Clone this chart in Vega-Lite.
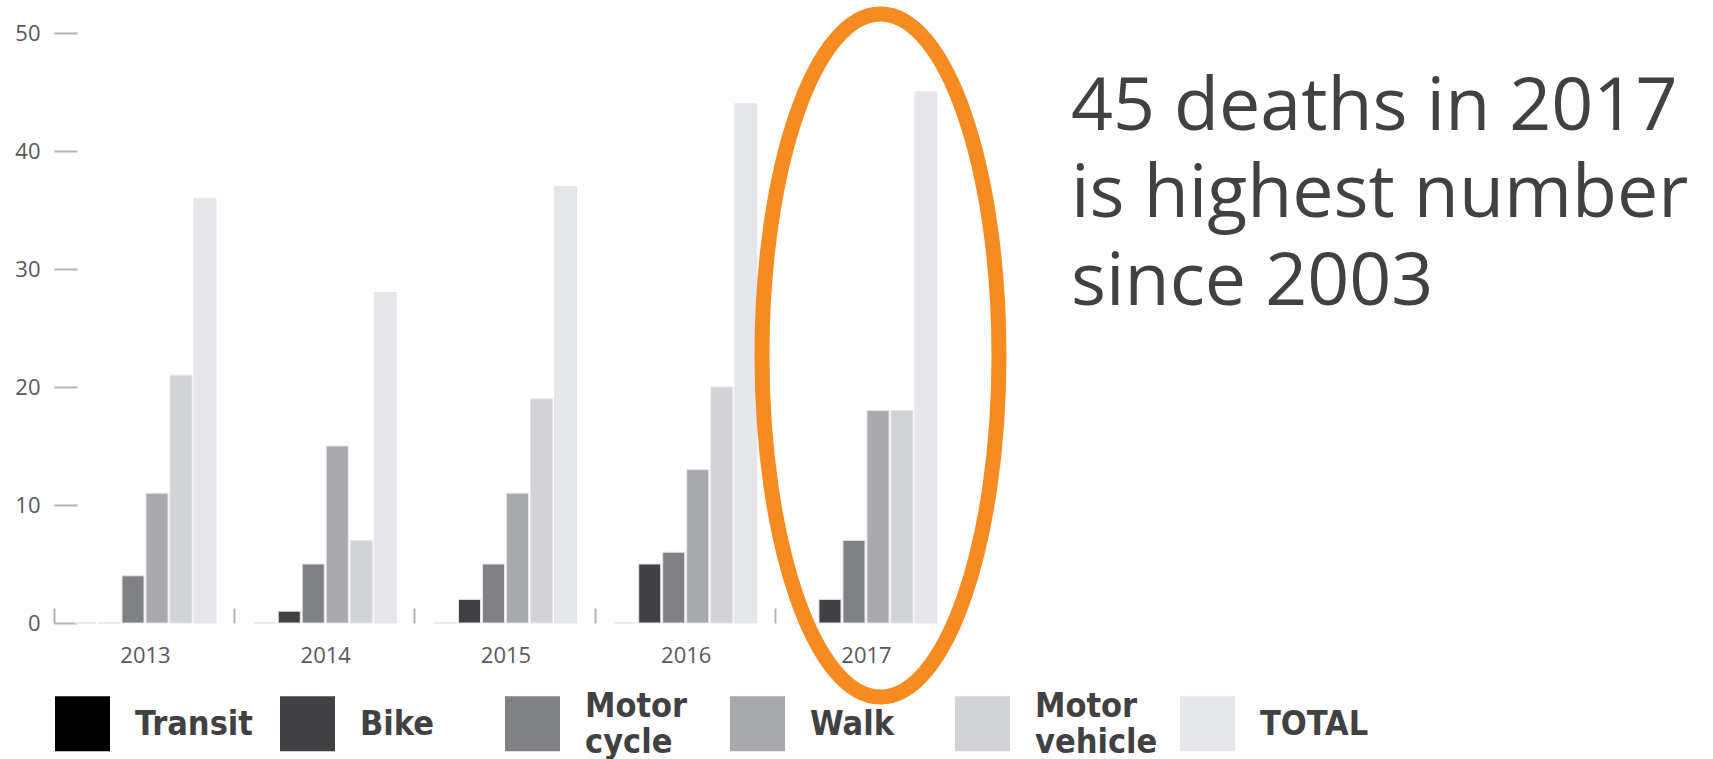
{
  "$schema": "https://vega.github.io/schema/vega-lite/v6.json",
  "width": 903,
  "height": 590,
  "autosize": {"type": "none"},
  "padding": {"left": 54, "top": 33, "right": 756, "bottom": 136},
  "background": "white",
  "config": {
    "view": {"stroke": null},
    "font": "Open Sans",
    "style": {"guide-label": {"lineHeight": 18}}
  },
  "layer": [
    {
      "data": {
        "values": [
          {"year": "2013", "mode": "Transit", "deaths": 0},
          {"year": "2013", "mode": "Bike", "deaths": 0},
          {"year": "2013", "mode": "Motor cycle", "deaths": 4},
          {"year": "2013", "mode": "Walk", "deaths": 11},
          {"year": "2013", "mode": "Motor vehicle", "deaths": 21},
          {"year": "2013", "mode": "TOTAL", "deaths": 36},
          {"year": "2014", "mode": "Transit", "deaths": 0},
          {"year": "2014", "mode": "Bike", "deaths": 1},
          {"year": "2014", "mode": "Motor cycle", "deaths": 5},
          {"year": "2014", "mode": "Walk", "deaths": 15},
          {"year": "2014", "mode": "Motor vehicle", "deaths": 7},
          {"year": "2014", "mode": "TOTAL", "deaths": 28},
          {"year": "2015", "mode": "Transit", "deaths": 0},
          {"year": "2015", "mode": "Bike", "deaths": 2},
          {"year": "2015", "mode": "Motor cycle", "deaths": 5},
          {"year": "2015", "mode": "Walk", "deaths": 11},
          {"year": "2015", "mode": "Motor vehicle", "deaths": 19},
          {"year": "2015", "mode": "TOTAL", "deaths": 37},
          {"year": "2016", "mode": "Transit", "deaths": 0},
          {"year": "2016", "mode": "Bike", "deaths": 5},
          {"year": "2016", "mode": "Motor cycle", "deaths": 6},
          {"year": "2016", "mode": "Walk", "deaths": 13},
          {"year": "2016", "mode": "Motor vehicle", "deaths": 20},
          {"year": "2016", "mode": "TOTAL", "deaths": 44},
          {"year": "2017", "mode": "Transit", "deaths": 0},
          {"year": "2017", "mode": "Bike", "deaths": 2},
          {"year": "2017", "mode": "Motor cycle", "deaths": 7},
          {"year": "2017", "mode": "Walk", "deaths": 18},
          {"year": "2017", "mode": "Motor vehicle", "deaths": 18},
          {"year": "2017", "mode": "TOTAL", "deaths": 45}
        ]
      },
      "mark": {"type": "bar", "stroke": "#e4e5e8", "strokeWidth": 1},
      "encoding": {
        "x": {
          "field": "year",
          "type": "nominal",
          "scale": {"paddingInner": 0.212, "paddingOuter": 0.111},
          "axis": {
            "title": null,
            "domain": false,
            "labelAngle": 0,
            "bandPosition": 0,
            "tickOffset": -20,
            "labelOffset": 20,
            "tickSize": -15,
            "tickWidth": 2,
            "tickColor": "#b3b3b3",
            "labelPadding": 37,
            "labelFontSize": 22,
            "labelColor": "#58595b",
            "labelFont": "Open Sans"
          }
        },
        "xOffset": {
          "field": "mode",
          "type": "nominal",
          "sort": ["Transit", "Bike", "Motor cycle", "Walk", "Motor vehicle", "TOTAL"],
          "scale": {"paddingInner": 0.083, "paddingOuter": 0}
        },
        "y": {
          "field": "deaths",
          "type": "quantitative",
          "scale": {"domain": [0, 50], "nice": false},
          "axis": {
            "title": null,
            "domain": false,
            "grid": false,
            "values": [0, 10, 20, 30, 40, 50],
            "tickSize": -23,
            "tickWidth": 2,
            "tickColor": "#b3b3b3",
            "labelPadding": 37,
            "labelFontSize": 22,
            "labelColor": "#58595b",
            "labelFont": "Open Sans"
          }
        },
        "color": {
          "field": "mode",
          "type": "nominal",
          "scale": {
            "domain": ["Transit", "Bike", "Motor cycle", "Walk", "Motor vehicle", "TOTAL"],
            "range": ["#000000", "#414143", "#808184", "#a7a9ac", "#d1d3d4", "#e6e7eb"]
          },
          "legend": {
            "title": null,
            "orient": "none",
            "legendX": 1,
            "legendY": 663,
            "direction": "horizontal",
            "columns": 6,
            "gridAlign": "all",
            "symbolType": "square",
            "symbolSize": 3025,
            "symbolStrokeWidth": 0,
            "symbolOpacity": 1,
            "labelFont": "DejaVu Sans Condensed",
            "labelFontWeight": "bold",
            "labelFontSize": 34,
            "labelColor": "#414143",
            "labelOffset": 25,
            "labelLimit": 300,
            "labelBaseline": "bottom",
            "columnPadding": 22,
            "labelExpr": "indexof(datum.label, ' ') >= 0 ? [split(datum.label, ' ')[0], '\u200b', split(datum.label, ' ')[1]] : ['\u200b', datum.label, '\u200b']"
          }
        }
      }
    },
    {
      "data": {
        "values": [
          {"year": "2017", "total": 45, "note": "45 deaths in 2017\nis highest number\nsince 2003"}
        ]
      },
      "mark": {
        "type": "text",
        "align": "left",
        "baseline": "alphabetic",
        "dx": 205,
        "dy": 38,
        "fontSize": 73.5,
        "font": "Open Sans",
        "fontWeight": 400,
        "color": "#414042",
        "lineBreak": "\n",
        "lineHeight": 87.4
      },
      "encoding": {
        "x": {"field": "year", "type": "nominal"},
        "y": {"field": "total", "type": "quantitative"},
        "text": {"field": "note"}
      }
    },
    {
      "data": {
        "values": [
          {"year": "2017", "total": 45}
        ]
      },
      "mark": {
        "type": "point",
        "shape": "M 0.3895,0.7716 C 0.3895,1.3239 0.2341,1.7716 0.0425,1.7716 C -0.1491,1.7716 -0.3045,1.3239 -0.3045,0.7716 C -0.3045,0.2193 -0.1491,-0.2284 0.0425,-0.2284 C 0.2341,-0.2284 0.3895,0.2193 0.3895,0.7716 Z",
        "size": 466489,
        "filled": false,
        "color": "#f68b21",
        "stroke": "#f68b21",
        "strokeWidth": 15,
        "opacity": 1
      },
      "encoding": {
        "x": {"field": "year", "type": "nominal"},
        "y": {"field": "total", "type": "quantitative"}
      }
    }
  ]
}
